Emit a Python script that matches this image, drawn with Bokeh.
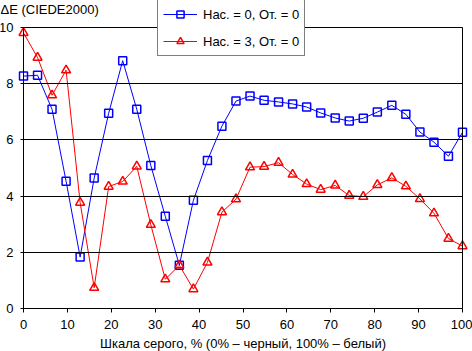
from bokeh.plotting import figure
from bokeh.models import (Legend, LegendItem, Label, FixedTicker, Range1d,
                          LinearAxis)
from bokeh.embed import file_html
from bokeh.resources import INLINE

gray_pct = [0, 3.2, 6.5, 9.7, 12.9, 16.1, 19.4, 22.6, 25.8, 29.0, 32.3, 35.5,
            38.7, 41.9, 45.2, 48.4, 51.6, 54.8, 58.1, 61.3, 64.5, 67.7, 71.0,
            74.2, 77.4, 80.6, 83.9, 87.1, 90.3, 93.5, 96.8, 100]
de_sat0 = [8.27, 8.30, 7.09, 4.53, 1.83, 4.64, 6.95, 8.82, 7.09, 5.09, 3.28, 1.54,
           3.85, 5.27, 6.49, 7.38, 7.56, 7.41, 7.35, 7.28, 7.17, 6.96, 6.78,
           6.67, 6.77, 6.99, 7.23, 6.91, 6.28, 5.92, 5.42, 6.27]
de_sat3 = [9.81, 8.93, 7.59, 8.48, 3.77, 0.74, 4.34, 4.52, 5.06, 2.98, 1.04, 1.54,
           0.69, 1.64, 3.43, 3.89, 5.03, 5.05, 5.19, 4.77, 4.43, 4.23, 4.38,
           4.02, 3.98, 4.40, 4.65, 4.35, 3.90, 3.39, 2.49, 2.22]
series_names = ["Нас. = 0, От. = 0", "Нас. = 3, От. = 0"]
x_ticks = [0, 10, 20, 30, 40, 50, 60, 70, 80, 90, 100]
y_ticks = [0, 2, 4, 6, 8, 10]
x_title = "Шкала серого, % (0% – черный, 100% – белый)"
y_title = "ΔE (CIEDE2000)"

FONT = "Liberation Sans"
FS = "13px"

# The frame covers the whole canvas (so the legend, titles and tick labels are not
# clipped); the data area (0..100, 0..10) sits at px 23..462, 27..308.
X_PX = 439 / 100.0
Y_PX = 281 / 10.0
x_start = -23 / X_PX
x_end = 100 + 10 / X_PX
y_start = -43 / Y_PX
y_end = 10 + 27 / Y_PX

p = figure(width=472, height=351, output_backend="svg", toolbar_location=None,
           x_range=Range1d(x_start, x_end), y_range=Range1d(y_start, y_end),
           min_border_left=0, min_border_right=0, min_border_top=0,
           min_border_bottom=0)
p.background_fill_color = "white"
p.border_fill_color = "white"
p.outline_line_color = None
p.xgrid.grid_line_color = None
p.ygrid.grid_line_color = None

xax = p.xaxis[0]
yax = p.yaxis[0]
for ax in (xax, yax):
    ax.axis_line_color = "black"
    ax.major_tick_line_color = "black"
    ax.minor_tick_line_color = None
    ax.major_label_text_font = FONT
    ax.major_label_text_font_size = FS
    ax.major_label_text_color = "black"

# x axis drawn at y = 0
xax.ticker = FixedTicker(ticks=x_ticks)
xax.bounds = (x_ticks[0], x_ticks[-1])
xax.fixed_location = y_ticks[0]
xax.major_tick_in = 0
xax.major_tick_out = 4
xax.major_label_standoff = 7

# y axis drawn at x = 0; its inward ticks span the plot area as the horizontal grid
yax.ticker = FixedTicker(ticks=y_ticks)
yax.bounds = (y_ticks[0], y_ticks[-1])
yax.fixed_location = x_ticks[0]
yax.major_tick_out = 3
yax.major_tick_in = 439
yax.major_label_standoff = 7

# right border of the plot area, drawn at x = 100
rax = LinearAxis(ticker=FixedTicker(ticks=[]), bounds=(y_ticks[0], y_ticks[-1]),
                 fixed_location=x_ticks[-1],
                 axis_line_color="black", major_tick_line_color=None,
                 minor_tick_line_color=None, major_label_text_font_size="0px")
p.add_layout(rax, "right")

l1 = p.line(gray_pct, de_sat0, line_color="#0000ff", line_width=1)
m1 = p.scatter(gray_pct, de_sat0, marker="square", size=8, line_color="#0000ff",
               line_width=1.5, fill_color=None)
l2 = p.line(gray_pct, de_sat3, line_color="#ff0000", line_width=1)
m2 = p.scatter(gray_pct, de_sat3, marker="triangle", size=9, line_color="#ff0000",
               line_width=1.5, fill_color=None)

legend = Legend(items=[LegendItem(label=series_names[0], renderers=[l1, m1]),
                       LegendItem(label=series_names[1], renderers=[l2, m2])],
                location=(157, 295), orientation="vertical")
legend.border_line_color = "black"
legend.border_line_width = 1
legend.background_fill_color = "white"
legend.background_fill_alpha = 1
legend.label_text_font = FONT
legend.label_text_font_size = FS
legend.label_text_color = "black"
legend.padding = 5
legend.margin = 0
legend.spacing = 9
legend.glyph_width = 34
legend.glyph_height = 18
legend.label_height = 18
legend.label_standoff = 6
p.add_layout(legend, "center")

p.add_layout(Label(x=x_start, y=y_ticks[-1], y_offset=18, text=y_title,
                   text_font=FONT, text_font_size=FS, text_color="black",
                   text_baseline="alphabetic"))
p.add_layout(Label(x=(x_ticks[0] + x_ticks[-1]) / 2, y=y_ticks[0], y_offset=-35,
                   text=x_title, text_align="center",
                   text_font=FONT, text_font_size=FS, text_color="black",
                   text_baseline="alphabetic"))

open("out.html", "w").write(file_html(p, INLINE))
